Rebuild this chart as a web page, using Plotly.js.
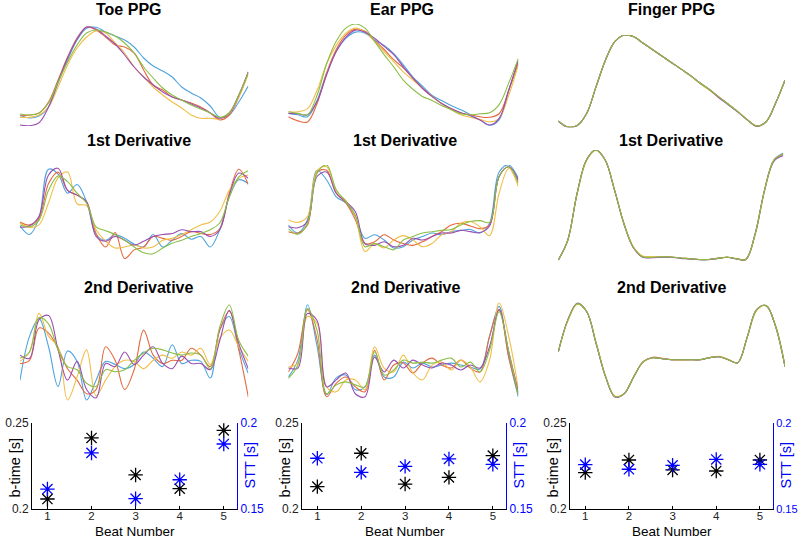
<!DOCTYPE html>
<html><head><meta charset="utf-8">
<script src="https://cdn.plot.ly/plotly-3.0.1.min.js"></script>
<style>html,body{margin:0;padding:0;background:#fff}#chart{width:800px;height:540px}</style>
</head><body><div id="chart"></div>
<script>
// ---------- data ----------
const sampleIdx = [0,1,2,3,4,5,6,7,8,9,10,11,12,13,14,15,16,17,18,19,20,21,22,23,24];

// Toe PPG
const toePpgBlue   = [0.11,0.08,0.10,0.19,0.43,0.66,0.86,0.977,0.987,0.94,0.90,0.86,0.79,0.68,0.60,0.55,0.49,0.39,0.33,0.28,0.20,0.087,0.11,0.24,0.40];
const toePpgOrange = [0.10,0.11,0.13,0.24,0.46,0.69,0.88,0.99,0.96,0.89,0.81,0.79,0.73,0.56,0.41,0.36,0.29,0.26,0.23,0.19,0.13,0.06,0.11,0.29,0.54];
const toePpgYellow = [0.087,0.087,0.11,0.19,0.39,0.61,0.78,0.89,0.95,0.93,0.83,0.73,0.59,0.49,0.39,0.31,0.24,0.18,0.11,0.077,0.077,0.073,0.13,0.29,0.52];
const toePpgPurple = [0.01,0.003,0.033,0.19,0.44,0.68,0.87,0.99,0.97,0.90,0.82,0.71,0.59,0.49,0.41,0.34,0.29,0.26,0.22,0.18,0.13,0.077,0.13,0.31,0.54];
const toePpgGreen  = [0.12,0.11,0.13,0.23,0.44,0.64,0.81,0.93,0.96,0.94,0.90,0.83,0.73,0.59,0.48,0.38,0.31,0.26,0.21,0.17,0.13,0.087,0.13,0.31,0.53];

// Ear PPG
const earPpgBlue   = [0.124,0.11,0.09,0.25,0.52,0.73,0.86,0.92,0.91,0.84,0.79,0.71,0.60,0.48,0.39,0.30,0.25,0.20,0.16,0.11,0.06,0.007,0.06,0.35,0.61];
const earPpgOrange = [0.09,0.05,0.04,0.22,0.52,0.75,0.89,0.95,0.93,0.84,0.75,0.65,0.57,0.47,0.37,0.29,0.22,0.17,0.13,0.11,0.09,0.085,0.12,0.35,0.63];
const earPpgYellow = [0.14,0.14,0.17,0.35,0.61,0.79,0.91,0.96,0.92,0.83,0.73,0.63,0.53,0.45,0.37,0.29,0.22,0.16,0.11,0.085,0.065,0.04,0.075,0.30,0.60];
const earPpgPurple = [0.124,0.12,0.11,0.24,0.50,0.73,0.87,0.94,0.92,0.86,0.78,0.70,0.58,0.47,0.37,0.29,0.22,0.17,0.13,0.10,0.06,0.01,0.075,0.35,0.65];
const earPpgGreen  = [0.14,0.124,0.11,0.30,0.61,0.83,0.96,1.0,0.96,0.83,0.70,0.58,0.45,0.36,0.29,0.25,0.20,0.16,0.12,0.11,0.12,0.13,0.21,0.42,0.66];

// Finger PPG
const fingerPpgBlue   = [0.07,0.005,0.02,0.15,0.44,0.73,0.93,1.0,0.98,0.91,0.84,0.77,0.70,0.63,0.56,0.48,0.405,0.325,0.25,0.17,0.08,0.015,0.06,0.26,0.51];
const fingerPpgOrange = [0.07,0.005,0.02,0.15,0.44,0.73,0.93,1.0,0.98,0.91,0.84,0.77,0.70,0.63,0.56,0.48,0.41,0.33,0.25,0.17,0.085,0.015,0.06,0.26,0.51];
const fingerPpgYellow = [0.07,0.005,0.02,0.15,0.44,0.73,0.93,1.0,0.98,0.91,0.84,0.77,0.70,0.63,0.555,0.475,0.40,0.325,0.245,0.17,0.08,0.012,0.058,0.26,0.51];
const fingerPpgPurple = [0.065,0.0,0.02,0.15,0.44,0.73,0.93,1.0,0.98,0.91,0.84,0.77,0.70,0.63,0.56,0.48,0.41,0.32,0.245,0.165,0.08,0.01,0.06,0.26,0.51];
const fingerPpgGreen  = [0.07,0.005,0.02,0.15,0.44,0.73,0.93,1.0,0.98,0.91,0.84,0.77,0.70,0.63,0.56,0.48,0.41,0.33,0.25,0.17,0.08,0.015,0.06,0.26,0.51];

// Toe 1st derivative
const toeD1Blue   = [0.39,0.30,0.47,0.98,0.93,0.73,0.82,0.64,0.30,0.24,0.30,0.26,0.20,0.17,0.30,0.17,0.24,0.31,0.25,0.28,0.17,0.35,0.69,0.87,0.83];
const toeD1Orange = [0.43,0.40,0.47,0.83,0.95,0.76,0.71,0.64,0.31,0.17,0.32,0.05,0.14,0.17,0.28,0.26,0.24,0.28,0.33,0.31,0.30,0.36,0.73,0.98,0.82];
const toeD1Yellow = [0.42,0.375,0.40,0.63,0.89,0.95,0.62,0.60,0.35,0.23,0.16,0.17,0.19,0.16,0.17,0.24,0.26,0.30,0.35,0.40,0.43,0.54,0.76,0.885,0.92];
const toeD1Purple = [0.375,0.39,0.49,0.92,0.99,0.76,0.71,0.64,0.28,0.23,0.28,0.24,0.19,0.23,0.28,0.30,0.31,0.35,0.33,0.33,0.28,0.35,0.71,0.94,0.885];
const toeD1Green  = [0.40,0.38,0.45,0.76,0.91,0.85,0.73,0.625,0.38,0.34,0.30,0.24,0.17,0.11,0.10,0.16,0.21,0.24,0.28,0.31,0.35,0.42,0.69,0.90,0.965];

// Ear 1st derivative
const earD1Blue   = [0.32,0.23,0.38,0.94,0.83,0.64,0.57,0.415,0.17,0.21,0.15,0.06,0.075,0.15,0.19,0.23,0.21,0.245,0.26,0.27,0.23,0.34,0.92,1.0,0.85];
const earD1Orange = [0.245,0.23,0.32,0.92,0.94,0.68,0.57,0.38,0.11,0.13,0.21,0.15,0.11,0.09,0.13,0.19,0.245,0.32,0.34,0.31,0.28,0.32,0.87,0.98,0.81];
const earD1Yellow = [0.38,0.35,0.415,0.94,0.98,0.70,0.60,0.415,0.02,0.11,0.06,0.15,0.20,0.15,0.075,0.11,0.21,0.245,0.34,0.36,0.30,0.20,0.68,0.96,0.755];
const earD1Purple = [0.30,0.29,0.36,0.87,0.92,0.68,0.585,0.47,0.11,0.09,0.13,0.075,0.09,0.17,0.15,0.19,0.23,0.23,0.26,0.245,0.235,0.31,0.87,0.98,0.83];
const earD1Green  = [0.28,0.215,0.34,0.905,1.0,0.72,0.585,0.43,0.075,0.11,0.075,0.04,0.15,0.19,0.23,0.245,0.26,0.27,0.32,0.36,0.37,0.35,0.87,0.98,0.79];

// Finger 1st derivative
const fingerD1Blue   = [0.015,0.19,0.61,0.91,1.0,0.91,0.64,0.34,0.13,0.045,0.04,0.045,0.042,0.033,0.027,0.02,0.02,0.03,0.04,0.027,0.02,0.25,0.64,0.91,0.97];
const fingerD1Orange = [0.015,0.19,0.61,0.91,1.0,0.91,0.64,0.34,0.13,0.045,0.04,0.045,0.042,0.033,0.027,0.02,0.02,0.03,0.04,0.027,0.02,0.25,0.64,0.91,0.965];
const fingerD1Yellow = [0.015,0.185,0.60,0.90,0.995,0.91,0.645,0.345,0.135,0.05,0.045,0.045,0.042,0.033,0.027,0.02,0.02,0.032,0.042,0.027,0.02,0.24,0.63,0.90,0.96];
const fingerD1Purple = [0.015,0.19,0.61,0.91,1.0,0.91,0.64,0.34,0.125,0.04,0.035,0.04,0.04,0.03,0.025,0.018,0.018,0.03,0.04,0.025,0.02,0.25,0.64,0.90,0.95];
const fingerD1Green  = [0.015,0.19,0.61,0.91,1.0,0.91,0.64,0.34,0.13,0.045,0.04,0.045,0.042,0.033,0.027,0.02,0.02,0.03,0.04,0.027,0.02,0.25,0.64,0.91,0.965];

// Toe 2nd derivative
const toeD2Blue   = [0.27,0.69,0.86,0.59,0.21,0.55,0.45,0.08,0.27,0.45,0.42,0.38,0.42,0.54,0.48,0.40,0.61,0.43,0.46,0.45,0.29,0.75,0.88,0.575,0.335];
const toeD2Orange = [0.43,0.46,0.77,0.72,0.575,0.38,0.27,0.14,0.18,0.59,0.46,0.18,0.37,0.75,0.51,0.43,0.46,0.46,0.575,0.51,0.40,0.75,0.93,0.56,0.11];
const toeD2Yellow = [0.45,0.54,0.91,0.69,0.59,0.08,0.30,0.56,0.12,0.27,0.40,0.46,0.45,0.38,0.46,0.51,0.48,0.54,0.51,0.575,0.42,0.67,0.75,0.59,0.45];
const toeD2Purple = [0.51,0.48,0.85,0.89,0.56,0.27,0.45,0.18,0.10,0.43,0.40,0.54,0.42,0.51,0.59,0.43,0.38,0.50,0.43,0.43,0.37,0.65,0.94,0.62,0.38];
const toeD2Green  = [0.48,0.54,0.87,0.81,0.56,0.40,0.37,0.24,0.21,0.37,0.35,0.37,0.46,0.53,0.575,0.56,0.53,0.51,0.53,0.51,0.38,0.78,0.99,0.65,0.50];

// Ear 2nd derivative
const earD2Blue   = [0.25,0.42,0.98,0.56,0.07,0.24,0.27,0.12,0.15,0.47,0.25,0.25,0.40,0.34,0.39,0.35,0.37,0.39,0.37,0.35,0.33,0.66,0.96,0.45,0.05];
const earD2Orange = [0.30,0.49,0.93,0.63,0.05,0.185,0.25,0.15,0.10,0.52,0.22,0.37,0.39,0.29,0.39,0.44,0.37,0.34,0.42,0.34,0.30,0.66,0.93,0.45,0.08];
const earD2Yellow = [0.35,0.39,0.86,0.79,0.15,0.10,0.22,0.22,0.12,0.555,0.34,0.30,0.47,0.29,0.22,0.37,0.40,0.32,0.42,0.35,0.20,0.42,1.0,0.66,0.13];
const earD2Purple = [0.34,0.34,0.89,0.82,0.15,0.22,0.29,0.08,0.05,0.45,0.30,0.42,0.34,0.42,0.37,0.34,0.39,0.37,0.32,0.37,0.34,0.555,0.93,0.505,0.10];
const earD2Green  = [0.235,0.37,0.94,0.72,0.08,0.17,0.20,0.17,0.15,0.505,0.27,0.32,0.42,0.39,0.40,0.39,0.42,0.44,0.35,0.40,0.30,0.52,0.91,0.505,0.07];

// Finger 2nd derivative
const fingerD2Blue   = [0.49,0.81,0.98,0.90,0.58,0.24,0.034,0.068,0.24,0.39,0.43,0.42,0.41,0.41,0.41,0.41,0.43,0.44,0.41,0.38,0.64,0.92,0.96,0.75,0.34];
const fingerD2Orange = [0.49,0.81,0.98,0.90,0.58,0.24,0.034,0.068,0.24,0.39,0.435,0.425,0.41,0.41,0.41,0.41,0.43,0.44,0.41,0.38,0.64,0.92,0.96,0.75,0.34];
const fingerD2Yellow = [0.49,0.80,0.975,0.90,0.585,0.245,0.04,0.07,0.235,0.385,0.43,0.42,0.41,0.405,0.41,0.41,0.43,0.445,0.415,0.38,0.63,0.91,0.96,0.76,0.35];
const fingerD2Purple = [0.49,0.815,0.985,0.90,0.575,0.235,0.03,0.065,0.24,0.39,0.43,0.42,0.41,0.41,0.41,0.41,0.43,0.44,0.41,0.38,0.64,0.92,0.96,0.75,0.34];
const fingerD2Green  = [0.49,0.81,0.98,0.90,0.58,0.24,0.034,0.068,0.24,0.39,0.43,0.42,0.41,0.41,0.41,0.41,0.43,0.44,0.41,0.38,0.64,0.92,0.96,0.75,0.34];

// Bottom row: timing per beat
const beatNumber  = [1,2,3,4,5];
const toeBTime    = [0.2058,0.2413,0.2198,0.2118,0.2457];
const toeSTT      = [0.1616,0.1826,0.1560,0.1670,0.1878];
const earBTime    = [0.2130,0.2324,0.2145,0.2184,0.2310];
const earSTT      = [0.1795,0.1713,0.1748,0.1791,0.1760];
const fingerBTime = [0.2212,0.2285,0.2227,0.2221,0.2285];
const fingerSTT   = [0.1758,0.1731,0.1754,0.1788,0.1760];
const bTimeTicks  = [0.2,0.25];
const bTimeTickText = ['0.2','0.25'];
const sttTicks    = [0.15,0.2];
const sttTickText = ['0.15','0.2'];

const columnTitles = ['Toe PPG','Ear PPG','Finger PPG'];
const rowTitles = ['1st Derivative','2nd Derivative'];

// ---------- layout helpers ----------
const W = 800, H = 540;
const FONT = 'Liberation Sans, Arial, Helvetica, sans-serif';
const lineColors = ['#4DA3DE','#E5693F','#F1BE45','#9A4DB2','#8ABE45'];
function dx(a,b){ return [a/W, b/W]; }
function dy(top,bot){ return [1-bot/H, 1-top/H]; }
function axKey(prefix, n){ return n===1 ? prefix+'axis' : prefix+'axis'+n; }
function axRef(prefix, n){ return n===1 ? prefix : prefix+n; }

const wavePanels = [
  {s:[toePpgBlue,toePpgOrange,toePpgYellow,toePpgPurple,toePpgGreen], x:[20,248.3], y:[26,126]},
  {s:[earPpgBlue,earPpgOrange,earPpgYellow,earPpgPurple,earPpgGreen], x:[288.3,518.3], y:[24,126]},
  {s:[fingerPpgBlue,fingerPpgOrange,fingerPpgYellow,fingerPpgPurple,fingerPpgGreen], x:[558.3,785], y:[35,127.3]},
  {s:[toeD1Blue,toeD1Orange,toeD1Yellow,toeD1Purple,toeD1Green], x:[20,248.3], y:[167.3,263.3]},
  {s:[earD1Blue,earD1Orange,earD1Yellow,earD1Purple,earD1Green], x:[288.3,518.3], y:[165,253.3]},
  {s:[fingerD1Blue,fingerD1Orange,fingerD1Yellow,fingerD1Purple,fingerD1Green], x:[558.3,783.3], y:[150,261.7]},
  {s:[toeD2Blue,toeD2Orange,toeD2Yellow,toeD2Purple,toeD2Green], x:[20,248.3], y:[304,408.3]},
  {s:[earD2Blue,earD2Orange,earD2Yellow,earD2Purple,earD2Green], x:[288.3,518.3], y:[302.7,401.7]},
  {s:[fingerD2Blue,fingerD2Orange,fingerD2Yellow,fingerD2Purple,fingerD2Green], x:[558.3,785], y:[301.7,400]}
];

const traces = [];
const layout = {
  width: W, height: H,
  margin: {l:0, r:0, t:0, b:0},
  paper_bgcolor: '#ffffff', plot_bgcolor: 'rgba(0,0,0,0)',
  showlegend: false,
  font: {family: FONT, color: '#000'},
  annotations: []
};

wavePanels.forEach((p, i) => {
  const n = i + 1;
  p.s.forEach((vals, k) => {
    traces.push({
      type: 'scatter', mode: 'lines', x: sampleIdx, y: vals,
      xaxis: axRef('x', n), yaxis: axRef('y', n),
      line: {color: lineColors[k], width: 1.1, shape: 'spline', smoothing: 1},
      hoverinfo: 'skip'
    });
  });
  layout[axKey('x', n)] = {domain: dx(p.x[0], p.x[1]), range: [0, 24], visible: false, anchor: axRef('y', n), fixedrange: true};
  layout[axKey('y', n)] = {domain: dy(p.y[0], p.y[1]), range: [0, 1], visible: false, anchor: axRef('x', n), fixedrange: true};
});

// bottom panels
const bottomCols = [
  {bt: toeBTime, stt: toeSTT, x: [32, 237]},
  {bt: earBTime, stt: earSTT, x: [302, 506]},
  {bt: fingerBTime, stt: fingerSTT, x: [570, 773]}
];
const bottomY = [423, 509];
const TICKSIZE = 12;
bottomCols.forEach((c, i) => {
  const xn = 10 + i, yl = 10 + i, yr = 13 + i;
  layout[axKey('x', xn)] = {
    domain: dx(c.x[0], c.x[1]), range: [0.65, 5.3], anchor: axRef('y', yl),
    showline: true, linecolor: '#000', linewidth: 1, mirror: false,
    ticks: 'inside', ticklen: 3, tickcolor: '#000', tickvals: beatNumber,
    ticklabelstandoff: -4,
    tickfont: {size: 11.5, color: '#222', family: FONT},
    showgrid: false, zeroline: false, fixedrange: true
  };
  layout[axKey('y', yl)] = {
    domain: dy(bottomY[0], bottomY[1]), range: [0.2, 0.25], anchor: axRef('x', xn),
    showline: true, linecolor: '#000', linewidth: 1,
    ticks: 'inside', ticklen: 3, tickcolor: '#000',
    tickvals: bTimeTicks, ticktext: bTimeTickText,
    tickfont: {size: TICKSIZE, color: '#222', family: FONT},
    showgrid: false, zeroline: false, fixedrange: true
  };
  layout[axKey('y', yr)] = {
    overlaying: axRef('y', yl), side: 'right', anchor: axRef('x', xn), range: [0.15, 0.2],
    showline: true, linecolor: '#0000FF', linewidth: 1,
    ticks: 'inside', ticklen: 3, tickcolor: '#0000FF',
    tickvals: sttTicks, ticktext: sttTickText,
    tickfont: {size: i === 2 ? 11 : TICKSIZE, color: '#0000FF', family: FONT},
    showgrid: false, zeroline: false, fixedrange: true
  };
  traces.push({
    type: 'scatter', mode: 'markers', x: beatNumber, y: c.bt,
    xaxis: axRef('x', xn), yaxis: axRef('y', yl), cliponaxis: false,
    marker: {symbol: 'asterisk-open', size: 12, color: '#000000', line: {color: '#000000', width: 1.3}},
    hoverinfo: 'x+y'
  });
  traces.push({
    type: 'scatter', mode: 'markers', x: beatNumber, y: c.stt,
    xaxis: axRef('x', xn), yaxis: axRef('y', yr), cliponaxis: false,
    marker: {symbol: 'asterisk-open', size: 12, color: '#0000FF', line: {color: '#0000FF', width: 1.3}},
    hoverinfo: 'x+y'
  });
  // axis titles
  layout.annotations.push({
    xref: 'paper', yref: 'paper', x: (c.x[0] - 17.5) / W, y: 1 - 468 / H,
    text: 'b-time [s]', textangle: -90, showarrow: false,
    xanchor: 'center', yanchor: 'middle', font: {size: 14.5, color: '#000', family: FONT}
  });
  layout.annotations.push({
    xref: 'paper', yref: 'paper', x: (c.x[1] + 12.5) / W, y: 1 - 466 / H,
    text: 'STT [s]', textangle: -90, showarrow: false,
    xanchor: 'center', yanchor: 'middle', font: {size: 14.5, color: '#0000FF', family: FONT}
  });
  layout.annotations.push({
    xref: 'paper', yref: 'paper', x: ((c.x[0] + c.x[1]) / 2 + 0.5) / W, y: 1 - 539.5 / H,
    text: 'Beat Number', showarrow: false, borderpad: 0,
    xanchor: 'center', yanchor: 'bottom', font: {size: 13.5, color: '#000', family: FONT}
  });
});

// panel titles
const colCenters = [[129, 139, 138], [402, 405, 405], [671, 671, 671]];
const rowCentersY = [9, 140, 287];
for (let c = 0; c < 3; c++) {
  const texts = [columnTitles[c], rowTitles[0], rowTitles[1]];
  for (let r = 0; r < 3; r++) {
    layout.annotations.push({
      xref: 'paper', yref: 'paper', x: colCenters[c][r] / W, y: 1 - rowCentersY[r] / H,
      text: '<b>' + texts[r] + '</b>', showarrow: false,
      xanchor: 'center', yanchor: 'middle', font: {size: 16, color: '#000', family: FONT}
    });
  }
}

Plotly.newPlot('chart', traces, layout, {displayModeBar: false, staticPlot: true});
</script>
</body></html>
